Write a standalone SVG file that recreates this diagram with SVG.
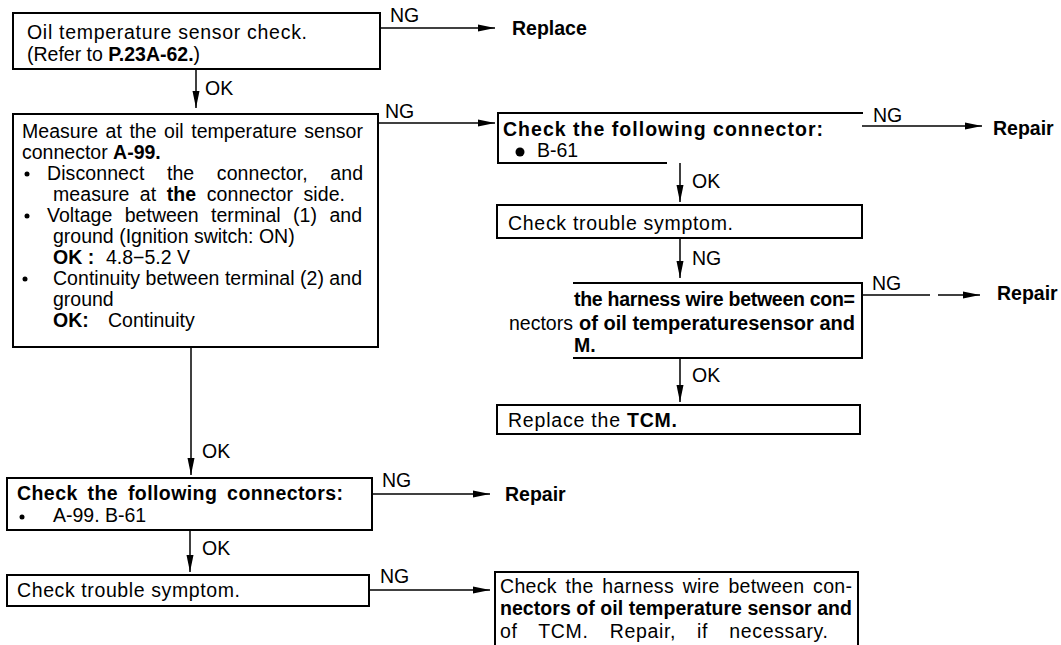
<svg xmlns="http://www.w3.org/2000/svg" width="1061" height="645" viewBox="0 0 1061 645">
<style>
text{font-family:"Liberation Sans",Arial,sans-serif;font-size:19.5px;fill:#000}
.b{font-weight:bold}
.box{fill:none;stroke:#000;stroke-width:2}
.ln{fill:none;stroke:#000;stroke-width:1.5}
</style>
<defs>
<marker id="ah" markerUnits="userSpaceOnUse" markerWidth="18" markerHeight="8" refX="17" refY="4" orient="auto"><path d="M0,0.5 L17,4 L0,7.5 z" fill="#000"/></marker>
</defs>
<rect width="1061" height="645" fill="#fff"/>

<g id="connectors">
<path class="ln" d="M380 28 H495" marker-end="url(#ah)"/>
<path class="ln" d="M196 69 V108" marker-end="url(#ah)"/>
<path class="ln" d="M378 123 H495" marker-end="url(#ah)"/>
<path class="ln" d="M862 126 H982" marker-end="url(#ah)"/>
<path class="ln" d="M680 163 V202" marker-end="url(#ah)"/>
<path class="ln" d="M680 238 V278" marker-end="url(#ah)"/>
<path class="ln" d="M862 295 H930 M938 295 H980" marker-end="url(#ah)"/>
<path class="ln" d="M680 358 V402" marker-end="url(#ah)"/>
<path class="ln" d="M191 347 V475" marker-end="url(#ah)"/>
<path class="ln" d="M372 494 H490" marker-end="url(#ah)"/>
<path class="ln" d="M190 530 V572" marker-end="url(#ah)"/>
<path class="ln" d="M369 590 H490" marker-end="url(#ah)"/>
<text x="390" y="22">NG</text>
<text x="205" y="95">OK</text>
<text x="385" y="118">NG</text>
<text x="873" y="122">NG</text>
<text x="692" y="188">OK</text>
<text x="692" y="265">NG</text>
<text x="872" y="290">NG</text>
<text x="692" y="382">OK</text>
<text x="202" y="458">OK</text>
<text x="382" y="487">NG</text>
<text x="202" y="555">OK</text>
<text x="380" y="583">NG</text>
</g>

<g id="box1">
<rect class="box" x="13" y="13" width="367" height="56"/>
<text x="27" y="39" textLength="280" lengthAdjust="spacing">Oil temperature sensor check.</text>
<text x="27" y="61">(Refer to <tspan class="b">P.23A-62.</tspan>)</text>
</g>

<g id="replace1">
<text class="b" x="512" y="35">Replace</text>
</g>

<g id="box2">
<rect class="box" x="13" y="114" width="365" height="233"/>
<text x="22" y="138" textLength="341" lengthAdjust="spacing" word-spacing="2">Measure at the oil temperature sensor</text>
<text x="22" y="159">connector <tspan class="b">A-99.</tspan></text>
<circle cx="27" cy="174" r="2.5"/>
<text x="47" y="180" textLength="316" lengthAdjust="spacing" word-spacing="17">Disconnect the connector, and</text>
<text x="53" y="201" textLength="292" lengthAdjust="spacing" word-spacing="5">measure at <tspan class="b">the</tspan> connector side.</text>
<circle cx="27" cy="216" r="2.5"/>
<text x="47" y="222" textLength="315" lengthAdjust="spacing" word-spacing="7">Voltage between terminal (1) and</text>
<text x="53" y="243">ground (Ignition switch: ON)</text>
<text class="b" x="53" y="264">OK :</text>
<text x="106" y="264">4.8−5.2 V</text>
<circle cx="25" cy="279" r="2.5"/>
<text x="53" y="285" textLength="309" lengthAdjust="spacing">Continuity between terminal (2) and</text>
<text x="53" y="306">ground</text>
<text class="b" x="53" y="327">OK:</text>
<text x="108" y="327">Continuity</text>
</g>

<g id="box3">
<path class="box" d="M863 113 H498 V163 H667"/>
<text class="b" x="503" y="136" textLength="320" lengthAdjust="spacing">Check the following connector:</text>
<circle cx="520" cy="152" r="4.5"/>
<text x="537" y="157">B-61</text>
</g>

<g id="repair1">
<text class="b" x="993" y="135">Repair</text>
</g>

<g id="box4">
<rect class="box" x="497" y="205" width="365" height="33"/>
<text x="508" y="230" textLength="225" lengthAdjust="spacing">Check trouble symptom.</text>
</g>

<g id="box5">
<path class="box" d="M573 283 H862 V358 H573"/>
<text class="b" x="574" y="306" textLength="281" lengthAdjust="spacing">the harness wire between con=</text>
<text x="509" y="330">nectors</text>
<text class="b" x="579" y="330" textLength="276" lengthAdjust="spacingAndGlyphs">of oil temperaturesensor and</text>
<text class="b" x="574" y="352">M.</text>
</g>

<g id="repair2">
<text class="b" x="997" y="300">Repair</text>
</g>

<g id="box_tcm">
<rect class="box" x="497" y="405" width="363" height="29"/>
<text x="508" y="427" textLength="169" lengthAdjust="spacing">Replace the <tspan class="b">TCM.</tspan></text>
</g>

<g id="box6">
<rect class="box" x="7" y="478" width="365" height="52"/>
<text class="b" x="17" y="500" textLength="326" lengthAdjust="spacing" word-spacing="4">Check the following connectors:</text>
<circle cx="22" cy="517" r="2.5"/>
<text x="53" y="522">A-99. B-61</text>
</g>

<g id="repair3">
<text class="b" x="505" y="501">Repair</text>
</g>

<g id="box7">
<rect class="box" x="7" y="575" width="362" height="31"/>
<text x="17" y="597" textLength="223" lengthAdjust="spacing">Check trouble symptom.</text>
</g>

<g id="box8">
<path class="box" d="M495 650 V572 H858 V650"/>
<text x="500" y="593" textLength="352" lengthAdjust="spacing" word-spacing="3">Check the harness wire between con-</text>
<text class="b" x="500" y="615" textLength="352" lengthAdjust="spacing">nectors of oil temperature sensor and</text>
<text x="500" y="638" textLength="328" lengthAdjust="spacing" word-spacing="15">of TCM. Repair, if necessary.</text>
</g>
</svg>
